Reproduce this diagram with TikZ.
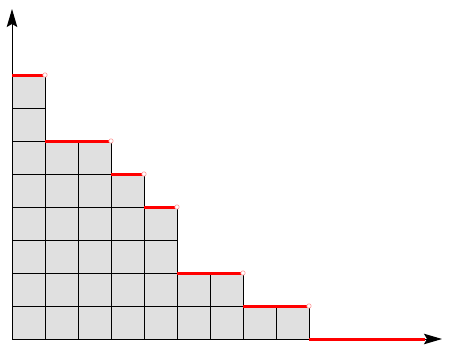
\documentclass[tikz,border=0pt]{standalone}
\usetikzlibrary{arrows.meta}
\definecolor{cellgray}{HTML}{E0E0E0}
\begin{document}
\begin{tikzpicture}[x=1pt,y=-1pt,
  cell/.style={fill=cellgray,draw=black,line width=1pt},
  redstep/.style={red,line width=3pt},
  opendot/.style={fill=white,draw=red!40,line width=0.6pt},
  axis/.style={line width=1pt,-{Stealth[length=18pt,width=10.5pt,inset=3pt]}}]
\useasboundingbox (0,0) rectangle (451,351);
% column heights (in cells)
\foreach \c/\h in {0/8,1/6,2/6,3/5,4/4,5/2,6/2,7/1,8/1}{
  \foreach \r in {1,...,\h}{
    \draw[cell] (12+33*\c,339-33*\r) rectangle (45+33*\c,372-33*\r);
  }
}
% axes
\coordinate (O) at (12,339);
\coordinate (Ytop) at (12,9);
\coordinate (Xend) at (442,339);
\draw[axis] (O) -- (Ytop);
% red steps
\draw[redstep] (12,75) -- (45,75);
\draw[redstep] (45,141) -- (111,141);
\draw[redstep] (111,174) -- (144,174);
\draw[redstep] (144,207) -- (177,207);
\draw[redstep] (177,273) -- (243,273);
\draw[redstep] (243,306) -- (309,306);
\draw[axis] (O) -- (Xend);
\draw[redstep] (309,339) -- (425,339);
\foreach \x/\y in {45/75,111/141,144/174,177/207,243/273,309/306}{
  \draw[opendot] (\x,\y) circle (2.2pt);
}
\end{tikzpicture}
\end{document}
